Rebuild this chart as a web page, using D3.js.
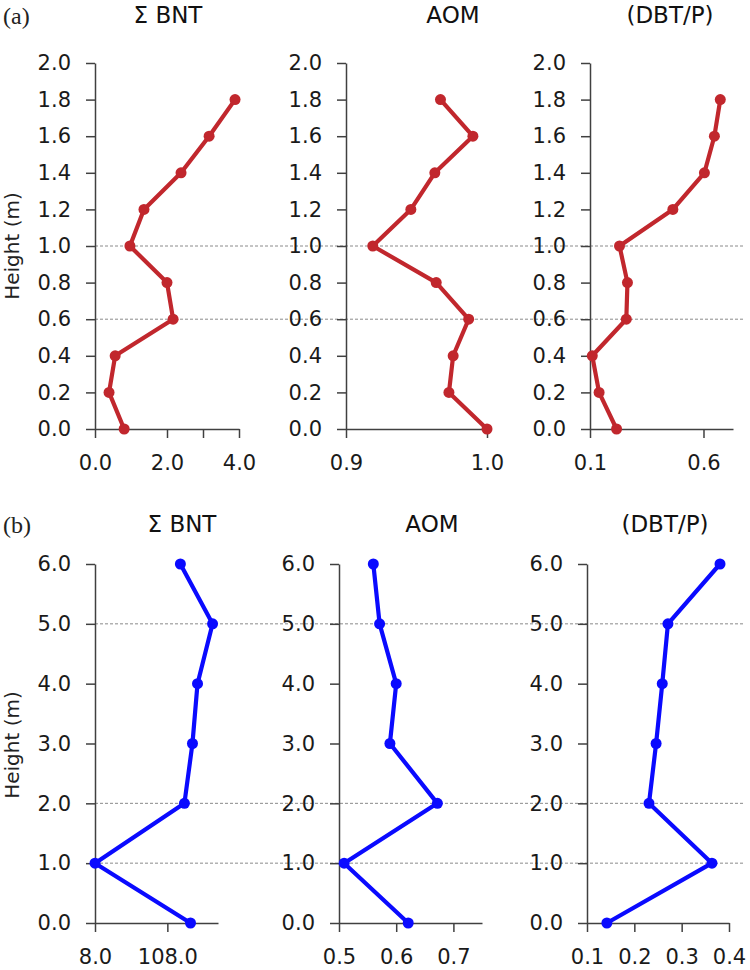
<!DOCTYPE html>
<html>
<head>
<meta charset="utf-8">
<script src="https://cdn.jsdelivr.net/npm/d3@7"></script>
<style>
  body { margin: 0; background: #fff; }
  svg { display: block; }
  .tick text { font-family: "DejaVu Sans", sans-serif; font-size: 21px; fill: #1a1a1a; }
  .domain, .tick line { stroke: #404040; stroke-width: 1.5; }
</style>
</head>
<body>
<svg id="chart" width="750" height="970"></svg>
<script>
// heights (m) for each profile
const heightA = [0, 0.2, 0.4, 0.6, 0.8, 1.0, 1.2, 1.4, 1.6, 1.8];
const heightB = [0, 1, 2, 3, 4, 5, 6];

// (a) series
const bntA = [0.81, 0.39, 0.56, 2.17, 2.0, 0.97, 1.36, 2.39, 3.17, 3.89];
const aomA = [1.0, 0.973, 0.976, 0.987, 0.964, 0.919, 0.946, 0.963, 0.990, 0.967];
const dbtA = [0.217, 0.14, 0.11, 0.26, 0.265, 0.23, 0.465, 0.604, 0.648, 0.674];

// (b) series
const bntB = [140, 8, 131.6, 142.7, 149.7, 170.5, 126];
const aomB = [0.621, 0.509, 0.672, 0.589, 0.60, 0.571, 0.560];
const dbtB = [0.142, 0.364, 0.231, 0.246, 0.259, 0.271, 0.381];

// tick values
const yTicksA = [0, 0.2, 0.4, 0.6, 0.8, 1.0, 1.2, 1.4, 1.6, 1.8, 2.0];
const yTicksB = [0, 1, 2, 3, 4, 5, 6];
const titles = ["\u03A3 BNT", "AOM", "(DBT/P)"];
const dashedA = [0.6, 1.0];
const dashedB = [1, 2, 5];

const svg = d3.select("#chart");

// one row of three profile panels
function drawRow(cfg) {
  const y = d3.scaleLinear().domain(cfg.yDomain).range(cfg.yRange);
  const g = svg.append("g");

  // dashed reference lines across the row
  g.selectAll(".ref")
    .data(cfg.dashed)
    .enter()
    .append("line")
    .attr("x1", cfg.panels[0].range[0])
    .attr("x2", 745)
    .attr("y1", d => y(d))
    .attr("y2", d => y(d))
    .attr("stroke", "#8a8a8a")
    .attr("stroke-width", 1)
    .attr("stroke-dasharray", "3,2");

  cfg.panels.forEach((p, i) => {
    const x = d3.scaleLinear().domain(p.domain).range(p.range);

    g.append("g")
      .attr("transform", `translate(${p.range[0]},0)`)
      .call(d3.axisLeft(y).tickValues(cfg.yTicks).tickSize(9).tickSizeOuter(0)
        .tickPadding(15).tickFormat(d3.format(".1f")));

    g.append("g")
      .attr("transform", `translate(0,${cfg.yRange[0]})`)
      .call(d3.axisBottom(x).tickValues(p.ticks).tickSize(9).tickSizeOuter(0)
        .tickPadding(17)
        .tickFormat(d => p.labels.includes(d) ? d3.format(".1f")(d) : ""));

    const pts = cfg.heights.map((h, k) => [p.values[k], h]);

    g.append("path")
      .datum(pts)
      .attr("fill", "none")
      .attr("stroke", cfg.color)
      .attr("stroke-width", 4.2)
      .attr("stroke-linejoin", "round")
      .attr("d", d3.line().x(d => x(d[0])).y(d => y(d[1])));

    g.selectAll(".pt" + i)
      .data(pts)
      .enter()
      .append("circle")
      .attr("cx", d => x(d[0]))
      .attr("cy", d => y(d[1]))
      .attr("r", 5.5)
      .attr("fill", cfg.color);

    g.append("text")
      .attr("x", p.titleX)
      .attr("y", cfg.titleY)
      .attr("text-anchor", "middle")
      .attr("font-family", "'DejaVu Sans', sans-serif")
      .attr("font-size", "23px")
      .attr("fill", "#111")
      .text(titles[i]);
  });

  g.append("text")
    .attr("x", 3)
    .attr("y", cfg.titleY + 1)
    .attr("font-family", "'Liberation Serif', serif")
    .attr("font-size", "24px")
    .attr("fill", "#222")
    .text(cfg.tag);

  g.append("text")
    .attr("transform", `translate(19,${cfg.labelY}) rotate(-90)`)
    .attr("text-anchor", "middle")
    .attr("font-family", "'DejaVu Sans', sans-serif")
    .attr("font-size", "20px")
    .attr("fill", "#222")
    .text("Height (m)");
}

drawRow({
  tag: "(a)", color: "#c1272d", heights: heightA,
  yDomain: [0, 2], yRange: [429, 63], yTicks: yTicksA, dashed: dashedA,
  titleY: 23, labelY: 246,
  panels: [
    { values: bntA, domain: [0, 4], range: [95, 239], ticks: [0, 2, 3, 4], labels: [0, 2, 4], titleX: 168 },
    { values: aomA, domain: [0.9, 1.0], range: [346, 487], ticks: [0.9, 1.0], labels: [0.9, 1.0], titleX: 453 },
    { values: dbtA, domain: [0.1, 0.73], range: [590, 733], ticks: [0.1, 0.6], labels: [0.1, 0.6], titleX: 670 }
  ]
});

drawRow({
  tag: "(b)", color: "#0a0aff", heights: heightB,
  yDomain: [0, 6], yRange: [923, 564], yTicks: yTicksB, dashed: dashedB,
  titleY: 532, labelY: 745,
  panels: [
    { values: bntB, domain: [8, 178], range: [95, 218], ticks: [8, 108], labels: [8, 108], titleX: 182 },
    { values: aomB, domain: [0.5, 0.75], range: [339, 482], ticks: [0.5, 0.6, 0.7], labels: [0.5, 0.6, 0.7], titleX: 432 },
    { values: dbtB, domain: [0.1, 0.4], range: [587, 729], ticks: [0.1, 0.2, 0.3, 0.4], labels: [0.1, 0.2, 0.3, 0.4], titleX: 665 }
  ]
});
</script>
</body>
</html>
